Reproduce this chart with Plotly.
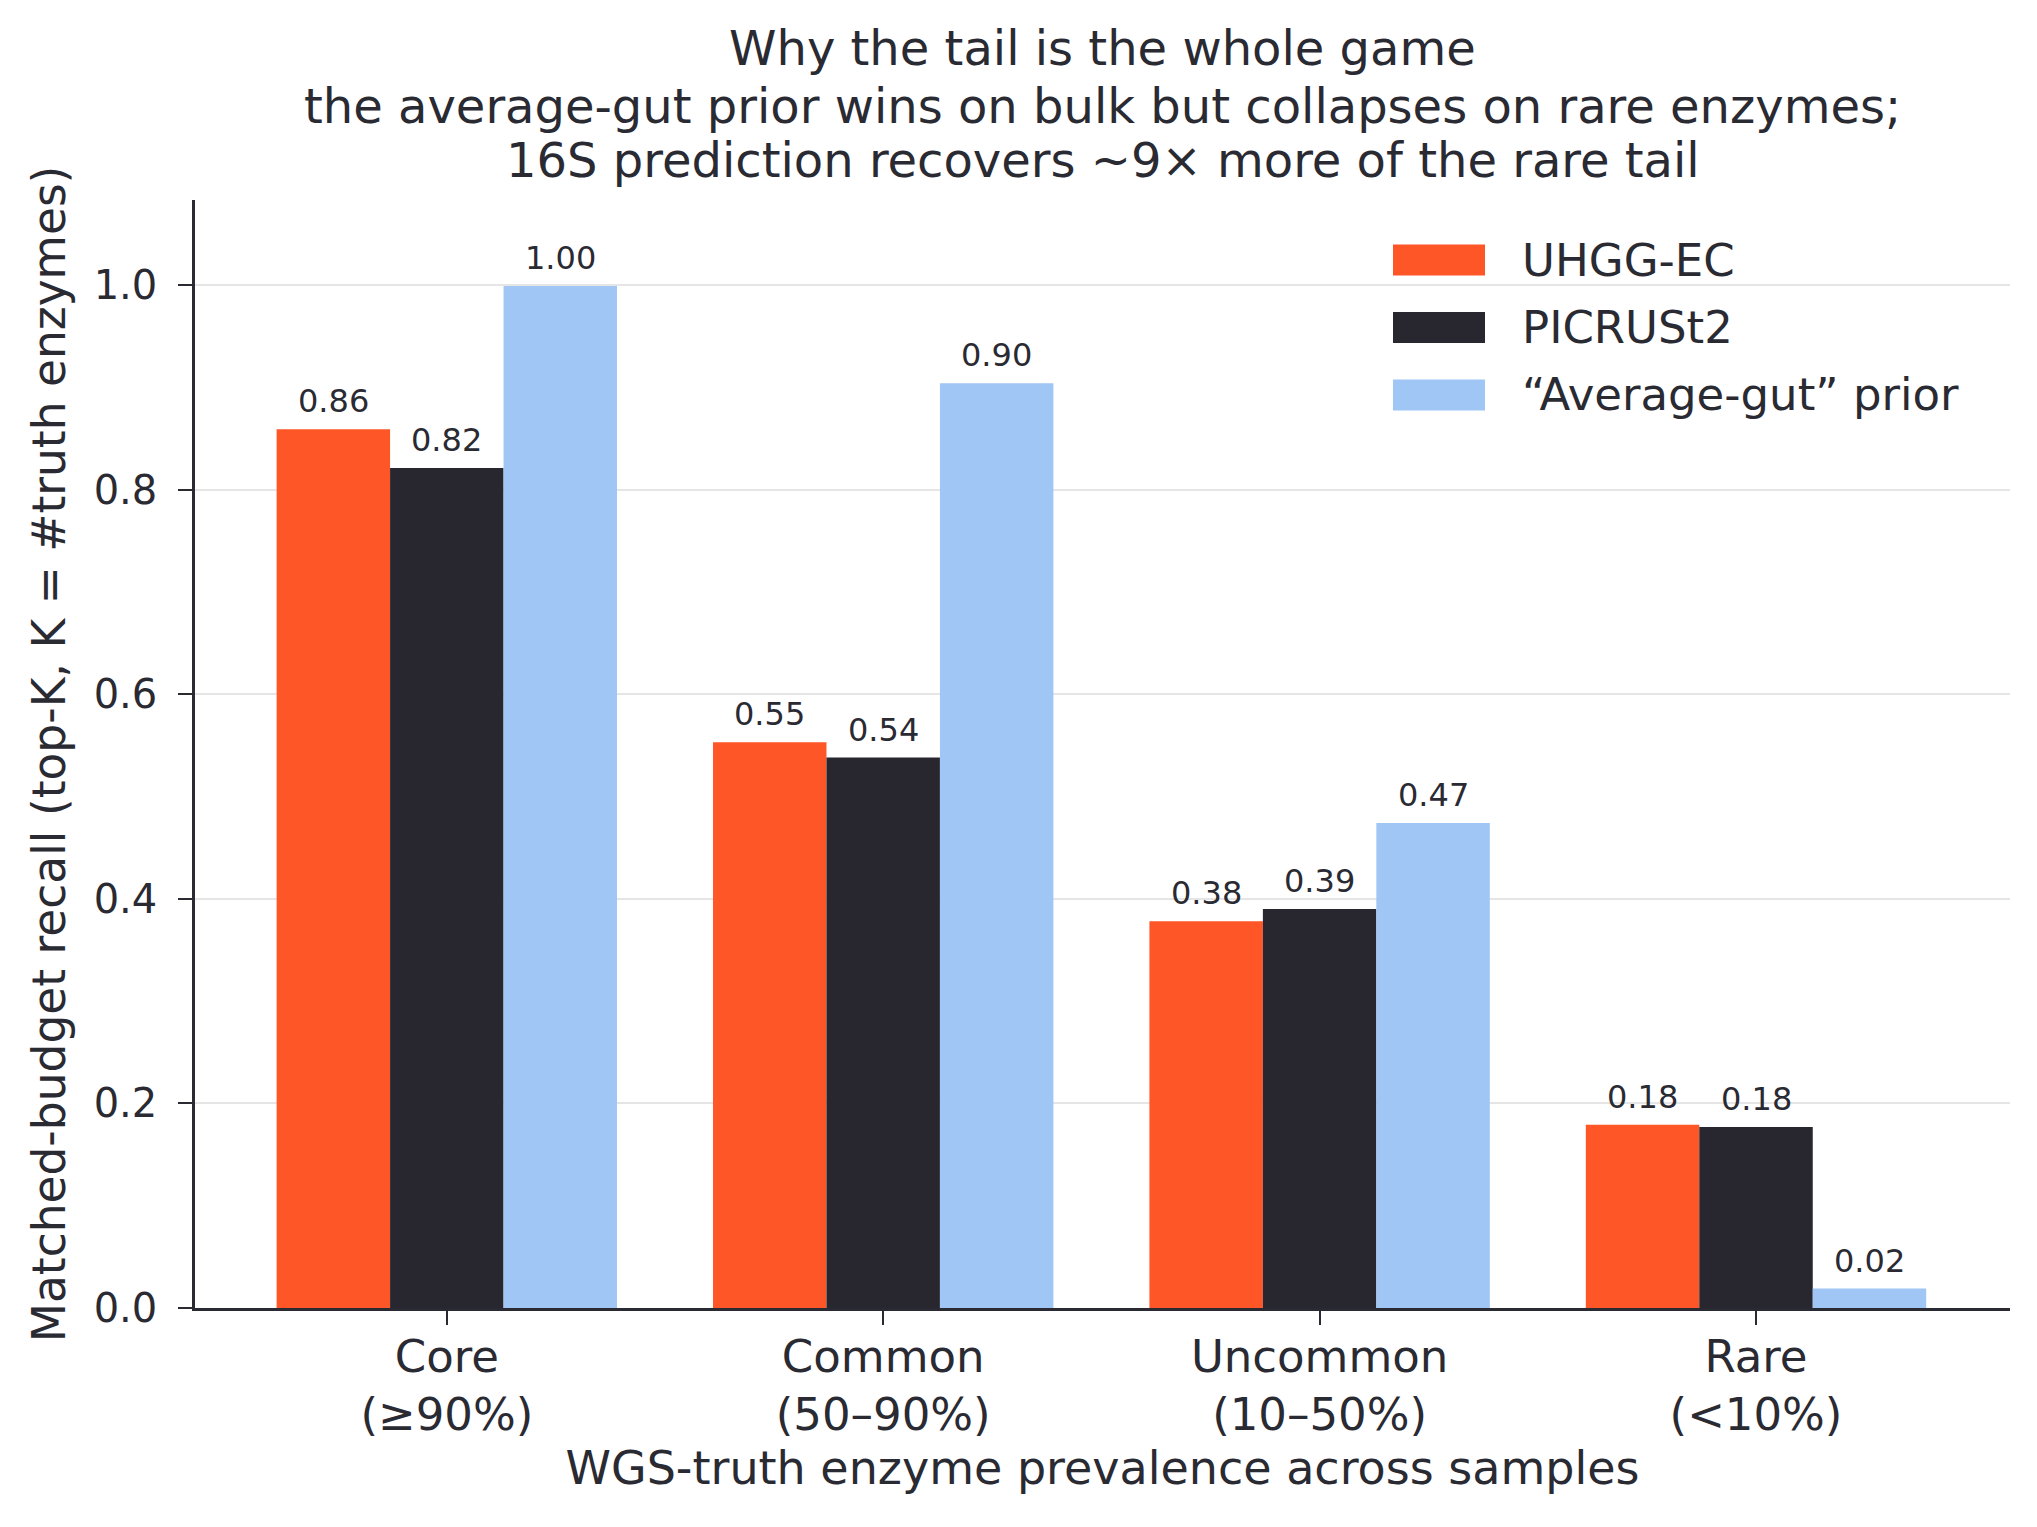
import plotly.graph_objects as go

categories = ["Core<br>(≥90%)", "Common<br>(50–90%)", "Uncommon<br>(10–50%)", "Rare<br>(<10%)"]
series_names = ["UHGG-EC", "PICRUSt2", "“Average-gut” prior"]
uhgg_ec = [0.859, 0.553, 0.378, 0.179]
picrust2 = [0.821, 0.538, 0.390, 0.177]
avg_gut_prior = [0.999, 0.904, 0.474, 0.019]
y_ticks = [0.0, 0.2, 0.4, 0.6, 0.8, 1.0]
title_lines = [
    "Why the tail is the whole game",
    "the average-gut prior wins on bulk but collapses on rare enzymes;",
    "16S prediction recovers ~9× more of the rare tail",
]

colors = ["#ff5627", "#282730", "#9fc6f4"]
TEXT = "#2a2a33"
FONT = "DejaVu Sans"

W, H = 2037, 1527
L, R, T, B = 195, 27, 200, 219
pw, ph = W - L - R, H - T - B
X_RANGE = [-0.577, 3.582]
BAR_W = 0.26
bar_px = BAR_W * pw / (X_RANGE[1] - X_RANGE[0])

def px_x(p):
    return (p - L) / pw

def px_y(p):
    return (H - B - p) / ph

fig = go.Figure()
all_series = [uhgg_ec, picrust2, avg_gut_prior]
for name, vals, col in zip(series_names, all_series, colors):
    fig.add_trace(go.Bar(
        x=categories, y=vals, name=name, marker=dict(color=col, line=dict(width=0)),
        showlegend=False,
    ))

# value labels above each bar
for j, vals in enumerate(all_series):
    for cat, v in zip(categories, vals):
        fig.add_annotation(
            x=cat, y=v, xref="x", yref="y", text=f"{v:.2f}", showarrow=False,
            xshift=(j - 1) * bar_px, yanchor="bottom", yshift=7,
            font=dict(size=32, color=TEXT, family=FONT),
        )

fig.update_layout(
    width=W, height=H,
    margin=dict(l=L, r=R, t=T, b=B, autoexpand=False),
    paper_bgcolor="white", plot_bgcolor="white",
    barmode="group", bargap=1 - 3 * BAR_W, bargroupgap=0.0,
    font=dict(family=FONT, color=TEXT),
)

# title lines
for line, yc in zip(title_lines, [48, 106, 160]):
    fig.add_annotation(xref="paper", yref="paper", x=0.5, y=px_y(yc),
                       xanchor="center", yanchor="middle", text=line, showarrow=False,
                       font=dict(size=48, color=TEXT, family=FONT))

fig.update_xaxes(
    range=X_RANGE, showline=True, linecolor=TEXT, linewidth=2.5,
    ticks="outside", ticklen=14, tickwidth=2, tickcolor=TEXT,
    ticklabelstandoff=-7,
    tickfont=dict(size=45, color=TEXT, family=FONT), showgrid=False,
    title=dict(text="WGS-truth enzyme prevalence across samples", font=dict(size=46, color=TEXT, family=FONT), standoff=10),
)
fig.update_yaxes(
    range=[0, 1.083], tickvals=y_ticks, tickformat=".1f",
    showline=True, linecolor=TEXT, linewidth=2.5,
    ticks="outside", ticklen=14, tickwidth=2, tickcolor=TEXT,
    ticklabelstandoff=13,
    tickfont=dict(size=40, color=TEXT, family=FONT),
    showgrid=True, gridcolor="#e5e5e5", gridwidth=2, zeroline=False,
    title=dict(text="Matched-budget recall (top-K, K = #truth enzymes)", font=dict(size=45.5, color=TEXT, family=FONT), standoff=14),
)

# manual legend (wide swatches)
row_y = [260, 327.5, 395]
for name, col, yc in zip(series_names, colors, row_y):
    fig.add_shape(type="rect", xref="paper", yref="paper",
                  x0=px_x(1393), x1=px_x(1485), y0=px_y(yc + 15.5), y1=px_y(yc - 15.5),
                  fillcolor=col, line=dict(width=0))
    fig.add_annotation(xref="paper", yref="paper", x=px_x(1520), y=px_y(yc),
                       xanchor="left", yanchor="middle", text=name, showarrow=False,
                       font=dict(size=45, color=TEXT, family=FONT))

fig.write_html("out.html")
